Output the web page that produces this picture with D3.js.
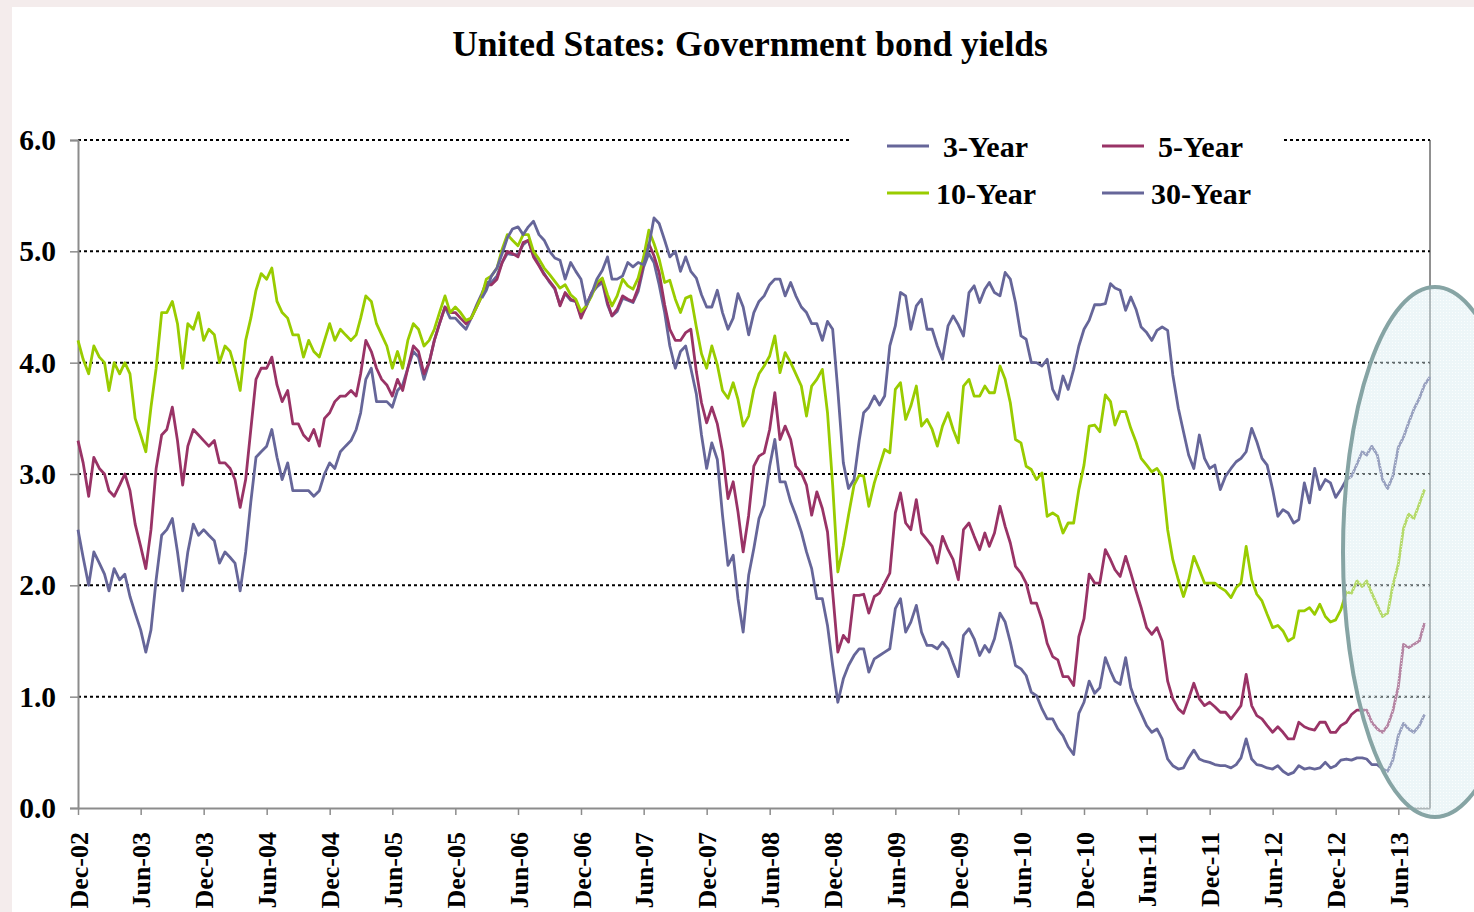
<!DOCTYPE html>
<html>
<head>
<meta charset="utf-8">
<script src="https://cdn.jsdelivr.net/npm/d3@7"></script>
<style>
  html, body { margin: 0; padding: 0; background: #f4ecec; }
  svg { display: block; font-family: "Liberation Serif", "Times New Roman", serif; font-weight: bold; }
</style>
</head>
<body>
<svg id="chart" width="1474" height="912"></svg>
<script>
// ---- Data: US Treasury yields (%), sampled on the 1st and 16th of each month ----
const chartTitle = "United States: Government bond yields";
const seriesStart = "2002-12-01";
const thirtyYearStart = "2006-02-16";   // 30-year bond reissued in Feb 2006

const xTickLabels = ["Dec-02","Jun-03","Dec-03","Jun-04","Dec-04","Jun-05","Dec-05","Jun-06",
  "Dec-06","Jun-07","Dec-07","Jun-08","Dec-08","Jun-09","Dec-09","Jun-10","Dec-10","Jun-11",
  "Dec-11","Jun-12","Dec-12","Jun-13"];
const yTickValues = [0, 1, 2, 3, 4, 5, 6];
const seriesNames = ["3-Year", "5-Year", "10-Year", "30-Year"];

const threeYear = [
  2.5, 2.25, 2.0, 2.3, 2.2, 2.1, 1.95, 2.15, 2.05, 2.1,
  1.9, 1.75, 1.6, 1.4, 1.6, 2.05, 2.45, 2.5, 2.6, 2.3,
  1.95, 2.3, 2.55, 2.45, 2.5, 2.45, 2.4, 2.2, 2.3, 2.25,
  2.2, 1.95, 2.3, 2.75, 3.15, 3.2, 3.25, 3.4, 3.15, 2.95,
  3.1, 2.85, 2.85, 2.85, 2.85, 2.8, 2.85, 3.0, 3.1, 3.05,
  3.2, 3.25, 3.3, 3.4, 3.55, 3.85, 3.95, 3.65, 3.65, 3.65,
  3.6, 3.75, 3.8, 3.95, 4.1, 4.05, 3.85, 4.0, 4.2, 4.35,
  4.5, 4.4, 4.4, 4.35, 4.3, 4.4, 4.52, 4.62, 4.72, 4.72,
  4.78, 4.9, 4.98, 4.97, 4.97, 5.06, 5.1, 4.97, 4.88, 4.8,
  4.72, 4.66, 4.52, 4.62, 4.56, 4.55, 4.42, 4.5, 4.62, 4.68,
  4.72, 4.52, 4.42, 4.46, 4.58, 4.56, 4.54, 4.64, 4.86, 4.98,
  4.9, 4.7, 4.45, 4.15, 3.95, 4.1, 4.15, 3.95, 3.72, 3.35,
  3.05, 3.28, 3.13, 2.63, 2.18, 2.27, 1.88, 1.58, 2.09, 2.33,
  2.6, 2.72, 3.07, 3.31, 2.93, 2.93, 2.75, 2.63, 2.48, 2.3,
  2.15, 1.88, 1.88, 1.64, 1.28, 0.95, 1.16, 1.28, 1.37, 1.43,
  1.43, 1.22, 1.34, 1.37, 1.4, 1.43, 1.79, 1.88, 1.58, 1.67,
  1.82, 1.58, 1.46, 1.46, 1.43, 1.49, 1.43, 1.3, 1.18, 1.55,
  1.61, 1.52, 1.37, 1.46, 1.4, 1.52, 1.75, 1.67, 1.49, 1.28,
  1.25, 1.19, 1.04, 1.01, 0.89, 0.8, 0.8, 0.71, 0.65, 0.55,
  0.48, 0.85, 0.95, 1.14, 1.03, 1.08, 1.35, 1.23, 1.14, 1.11,
  1.35, 1.08, 0.95, 0.85, 0.74, 0.68, 0.71, 0.62, 0.44, 0.38,
  0.35, 0.36, 0.45, 0.52, 0.44, 0.42, 0.41, 0.39, 0.38, 0.38,
  0.36, 0.39, 0.45, 0.62, 0.44, 0.39, 0.38, 0.36, 0.35, 0.38,
  0.33, 0.3, 0.32, 0.38, 0.35, 0.36, 0.35, 0.36, 0.41, 0.36,
  0.38, 0.43, 0.44, 0.43, 0.45, 0.45, 0.44, 0.39, 0.39, 0.35,
  0.33, 0.43, 0.65, 0.76, 0.71, 0.68, 0.74, 0.84
];

const fiveYear = [
  3.3, 3.1, 2.8, 3.15, 3.05, 3.0, 2.85, 2.8, 2.9, 3.0,
  2.85, 2.55, 2.35, 2.15, 2.5, 3.05, 3.35, 3.4, 3.6, 3.3,
  2.9, 3.25, 3.4, 3.35, 3.3, 3.25, 3.3, 3.1, 3.1, 3.05,
  2.95, 2.7, 2.95, 3.4, 3.85, 3.95, 3.95, 4.05, 3.8, 3.65,
  3.75, 3.45, 3.45, 3.35, 3.3, 3.4, 3.25, 3.5, 3.55, 3.65,
  3.7, 3.7, 3.75, 3.7, 3.9, 4.2, 4.1, 3.95, 3.85, 3.8,
  3.7, 3.85, 3.75, 3.95, 4.15, 4.1, 3.9, 4.0, 4.2, 4.35,
  4.5, 4.45, 4.45, 4.4, 4.35, 4.4, 4.5, 4.6, 4.7, 4.7,
  4.75, 4.9, 5.0, 4.98, 4.95, 5.08, 5.1, 4.95, 4.87, 4.79,
  4.73, 4.67, 4.51, 4.63, 4.57, 4.55, 4.4, 4.51, 4.63, 4.7,
  4.75, 4.54, 4.42, 4.48, 4.6, 4.57, 4.55, 4.67, 4.9, 5.07,
  4.96, 4.81, 4.52, 4.3, 4.2, 4.2, 4.27, 4.3, 3.92, 3.64,
  3.46, 3.6, 3.45, 3.2, 2.78, 2.93, 2.66, 2.3, 2.63, 3.07,
  3.16, 3.19, 3.4, 3.73, 3.31, 3.43, 3.31, 3.07, 3.01, 2.9,
  2.63, 2.84, 2.69, 2.48, 1.94, 1.4, 1.55, 1.49, 1.91, 1.91,
  1.92, 1.75, 1.9, 1.93, 2.02, 2.11, 2.65, 2.83, 2.56, 2.5,
  2.77, 2.47, 2.41, 2.35, 2.2, 2.44, 2.32, 2.23, 2.05, 2.5,
  2.56, 2.44, 2.32, 2.47, 2.35, 2.47, 2.71, 2.53, 2.38, 2.17,
  2.11, 2.02, 1.84, 1.84, 1.69, 1.48, 1.36, 1.33, 1.18, 1.18,
  1.1, 1.54, 1.7, 2.1, 2.02, 2.02, 2.32, 2.23, 2.14, 2.08,
  2.26, 2.11, 1.95, 1.8, 1.62, 1.56, 1.62, 1.5, 1.14, 0.98,
  0.89, 0.85, 0.98, 1.12, 0.98, 0.92, 0.95, 0.91, 0.86, 0.86,
  0.8, 0.86, 0.92, 1.2, 0.92, 0.83, 0.8, 0.74, 0.68, 0.73,
  0.68, 0.62, 0.62, 0.77, 0.73, 0.71, 0.7, 0.77, 0.77, 0.68,
  0.68, 0.74, 0.77, 0.84, 0.88, 0.88, 0.88, 0.77, 0.71, 0.68,
  0.74, 0.87, 1.09, 1.47, 1.44, 1.47, 1.5, 1.66
];

const tenYear = [
  4.2, 4.03, 3.9, 4.15, 4.05, 4.0, 3.75, 4.0, 3.9, 4.0,
  3.9, 3.5, 3.35, 3.2, 3.6, 3.95, 4.45, 4.45, 4.55, 4.35,
  3.95, 4.35, 4.3, 4.45, 4.2, 4.3, 4.25, 4.0, 4.15, 4.1,
  3.95, 3.75, 4.2, 4.4, 4.65, 4.8, 4.75, 4.85, 4.55, 4.45,
  4.4, 4.25, 4.25, 4.05, 4.2, 4.1, 4.05, 4.2, 4.35, 4.2,
  4.3, 4.25, 4.2, 4.25, 4.4, 4.6, 4.55, 4.35, 4.25, 4.15,
  3.95, 4.1, 3.95, 4.2, 4.35, 4.3, 4.15, 4.2, 4.3, 4.45,
  4.6, 4.45, 4.5, 4.45, 4.38, 4.4, 4.5, 4.6, 4.75, 4.78,
  4.85, 5.02, 5.15, 5.1, 5.05, 5.15, 5.15, 5.0, 4.93, 4.85,
  4.79, 4.73, 4.67, 4.7, 4.61, 4.57, 4.46, 4.51, 4.6, 4.72,
  4.76, 4.61, 4.51, 4.6, 4.75, 4.69, 4.66, 4.76, 4.95, 5.19,
  5.07, 4.93, 4.72, 4.74, 4.57, 4.45, 4.58, 4.6, 4.32, 4.08,
  3.95, 4.15, 3.98, 3.75, 3.68, 3.82, 3.67, 3.43, 3.52, 3.76,
  3.9, 3.97, 4.06, 4.24, 3.91, 4.09, 4.0, 3.9, 3.79, 3.52,
  3.79, 3.85, 3.94, 3.55, 2.9, 2.12, 2.36, 2.63, 2.9, 2.99,
  2.98, 2.71, 2.92, 3.07, 3.22, 3.19, 3.76, 3.82, 3.49, 3.61,
  3.79, 3.43, 3.49, 3.4, 3.25, 3.43, 3.55, 3.4, 3.28, 3.79,
  3.85, 3.7, 3.7, 3.79, 3.73, 3.73, 3.97, 3.85, 3.64, 3.31,
  3.28, 3.07, 3.04, 2.95, 3.01, 2.62, 2.65, 2.62, 2.47, 2.56,
  2.56, 2.86, 3.08, 3.43, 3.44, 3.38, 3.71, 3.65, 3.44, 3.56,
  3.56, 3.41, 3.29, 3.14, 3.08, 3.02, 3.05, 2.98, 2.5, 2.23,
  2.05, 1.9, 2.05, 2.26, 2.14, 2.02, 2.02, 2.02, 1.98, 1.95,
  1.89, 1.98, 2.02, 2.35, 2.05, 1.92, 1.86, 1.74, 1.62, 1.64,
  1.59, 1.5, 1.53, 1.77, 1.77, 1.8, 1.74, 1.83, 1.72, 1.67,
  1.69, 1.78, 1.94, 1.93, 2.04, 1.99, 2.04, 1.93, 1.82, 1.72,
  1.75, 2.0, 2.19, 2.51, 2.64, 2.6, 2.73, 2.86
];

const thirtyYear = [
  4.58, 4.65, 4.78, 4.85,
  4.98, 5.12, 5.2, 5.22, 5.15, 5.22, 5.27, 5.15, 5.1, 5.0,
  4.94, 4.92, 4.75, 4.9, 4.82, 4.75, 4.52, 4.62, 4.75, 4.83,
  4.95, 4.75, 4.75, 4.78, 4.9, 4.86, 4.9, 4.88, 5.05, 5.3,
  5.25, 5.1, 4.95, 5.0, 4.82, 4.95, 4.82, 4.76, 4.61, 4.5,
  4.5, 4.65, 4.45, 4.3, 4.4, 4.62, 4.5, 4.25, 4.45, 4.55,
  4.6, 4.7, 4.75, 4.75, 4.6, 4.72, 4.6, 4.5, 4.45, 4.35,
  4.35, 4.2, 4.37, 4.3, 3.75, 3.1, 2.87, 2.95, 3.3, 3.55,
  3.6, 3.7, 3.62, 3.7, 4.15, 4.33, 4.63, 4.6, 4.3, 4.51,
  4.57, 4.3, 4.3, 4.15, 4.03, 4.33, 4.42, 4.34, 4.24, 4.63,
  4.69, 4.54, 4.66, 4.72, 4.63, 4.6, 4.81, 4.75, 4.54, 4.24,
  4.21, 4.0, 4.0, 3.97, 4.03, 3.76, 3.67, 3.88, 3.76, 3.94,
  4.15, 4.3, 4.38, 4.52, 4.52, 4.53, 4.71, 4.67, 4.65, 4.47,
  4.59, 4.48, 4.32, 4.27, 4.2, 4.29, 4.32, 4.29, 3.89, 3.59,
  3.38, 3.17, 3.05, 3.35, 3.14, 3.05, 3.08, 2.86, 2.98, 3.05,
  3.11, 3.14, 3.2, 3.41, 3.29, 3.14, 3.08, 2.86, 2.62, 2.68,
  2.65, 2.56, 2.59, 2.92, 2.74, 3.05, 2.86, 2.95, 2.92, 2.79,
  2.86, 2.95, 2.98, 3.09, 3.2, 3.17, 3.25, 3.17, 2.95, 2.87,
  2.98, 3.24, 3.33, 3.46, 3.58, 3.68, 3.8, 3.87
];

const seriesColors = { "3-Year": "#666699", "5-Year": "#993366", "10-Year": "#99cc00", "30-Year": "#666699" };

// ---- Helpers ----
const parseDay = d3.timeParse("%Y-%m-%d");
const parseTick = d3.timeParse("%b-%y");

// Observation dates: the 1st and 16th of each month from a starting date
function halfMonthDates(startStr, n) {
  const s = parseDay(startStr);
  const k0 = s.getDate() >= 16 ? 1 : 0;
  return d3.range(n).map(i => {
    const k = k0 + i;
    return new Date(s.getFullYear(), s.getMonth() + Math.floor(k / 2), k % 2 ? 16 : 1);
  });
}
function toPoints(startStr, values) {
  const dates = halfMonthDates(startStr, values.length);
  return values.map((v, i) => ({ date: dates[i], value: v }));
}

const series = [
  { name: "3-Year",  points: toPoints(seriesStart, threeYear) },
  { name: "5-Year",  points: toPoints(seriesStart, fiveYear) },
  { name: "10-Year", points: toPoints(seriesStart, tenYear) },
  { name: "30-Year", points: toPoints(thirtyYearStart, thirtyYear) }
];

// ---- Layout ----
const svg = d3.select("#chart");
const W = 1474, H = 912;
const plot = { left: 78, right: 1430, top: 140, bottom: 808 };
const serif = "Liberation Serif, Times New Roman, serif";

svg.append("rect").attr("x", 12).attr("y", 7).attr("width", W - 12).attr("height", H - 7).attr("fill", "#ffffff");

const x = d3.scaleTime()
  .domain([parseDay("2002-12-01"), parseDay("2013-09-01")])
  .range([plot.left, plot.right]);
const y = d3.scaleLinear().domain([0, 6]).range([plot.bottom, plot.top]);

// Title
svg.append("text")
  .attr("x", 750).attr("y", 56)
  .attr("text-anchor", "middle")
  .attr("font-size", 35.5)
  .attr("fill", "#000")
  .text(chartTitle);

// Dotted gridlines
svg.append("g")
  .selectAll("line")
  .data(yTickValues.filter(v => v > 0))
  .join("line")
  .attr("x1", plot.left).attr("x2", plot.right)
  .attr("y1", d => y(d)).attr("y2", d => y(d))
  .attr("stroke", "#000").attr("stroke-width", 2)
  .attr("stroke-dasharray", "3,3");

// Right border of the plot area
svg.append("line")
  .attr("x1", plot.right).attr("x2", plot.right)
  .attr("y1", plot.top).attr("y2", plot.bottom)
  .attr("stroke", "#222").attr("stroke-width", 1);

// Y axis
const yAxis = svg.append("g")
  .attr("transform", `translate(${plot.left},0)`)
  .call(d3.axisLeft(y).tickValues(yTickValues).tickFormat(d3.format(".1f")).tickSize(8).tickPadding(14));
yAxis.select(".domain").attr("stroke", "#8c8c8c").attr("stroke-width", 2);
yAxis.selectAll(".tick line").attr("stroke", "#8c8c8c").attr("stroke-width", 1.5);
yAxis.selectAll(".tick text")
  .attr("font-family", serif)
  .attr("font-weight", "bold").attr("font-size", 29.5).attr("fill", "#000");

// X axis
const xTickDates = xTickLabels.map(parseTick);
const xAxis = svg.append("g")
  .attr("transform", `translate(0,${plot.bottom})`)
  .call(d3.axisBottom(x).tickValues(xTickDates).tickFormat(d3.timeFormat("%b-%y")).tickSize(7).tickSizeOuter(0));
xAxis.select(".domain").attr("stroke", "#8c8c8c").attr("stroke-width", 2);
xAxis.selectAll(".tick line").attr("stroke", "#8c8c8c").attr("stroke-width", 1.5);
xAxis.selectAll(".tick text")
  .attr("font-family", serif)
  .attr("font-weight", "bold").attr("font-size", 26).attr("fill", "#000")
  .attr("text-anchor", "end")
  .attr("transform", "rotate(-90)")
  .attr("x", -24).attr("y", 0).attr("dy", "0.35em");

// Series lines
const line = d3.line().x(d => x(d.date)).y(d => y(d.value));
svg.append("g")
  .selectAll("path")
  .data(series)
  .join("path")
  .attr("d", d => line(d.points))
  .attr("fill", "none")
  .attr("stroke", d => seriesColors[d.name])
  .attr("stroke-width", 2.8)
  .attr("stroke-linejoin", "round");

// Legend (white box interrupting the top gridline)
svg.append("rect").attr("x", 851).attr("y", 125).attr("width", 432).attr("height", 92).attr("fill", "#fff");
const legendItems = [
  { name: "3-Year",  lx: 887,  ty: 146, tx: 943 },
  { name: "5-Year",  lx: 1102, ty: 146, tx: 1158 },
  { name: "10-Year", lx: 887,  ty: 193, tx: 936 },
  { name: "30-Year", lx: 1102, ty: 193, tx: 1151 }
];
const lg = svg.append("g").selectAll("g").data(legendItems).join("g");
lg.append("line")
  .attr("x1", d => d.lx).attr("x2", d => d.lx + 42)
  .attr("y1", d => d.ty).attr("y2", d => d.ty)
  .attr("stroke", d => seriesColors[d.name]).attr("stroke-width", 2.8);
lg.append("text")
  .attr("x", d => d.tx).attr("y", d => d.ty).attr("dy", "0.35em")
  .attr("font-size", 30).attr("fill", "#000")
  .text(d => d.name);

// Highlight ellipse over the most recent months
const defs = svg.append("defs");
const pat = defs.append("pattern").attr("id", "dots").attr("width", 3).attr("height", 3).attr("patternUnits", "userSpaceOnUse");
pat.append("rect").attr("width", 3).attr("height", 3).attr("fill", "rgba(214,236,240,0.45)");
pat.append("rect").attr("width", 1).attr("height", 1).attr("fill", "rgba(255,255,255,0.7)");
svg.append("ellipse")
  .attr("cx", 1435).attr("cy", 552).attr("rx", 92).attr("ry", 265)
  .attr("fill", "url(#dots)")
  .attr("stroke", "#86a4a4").attr("stroke-width", 4);
</script>
</body>
</html>
